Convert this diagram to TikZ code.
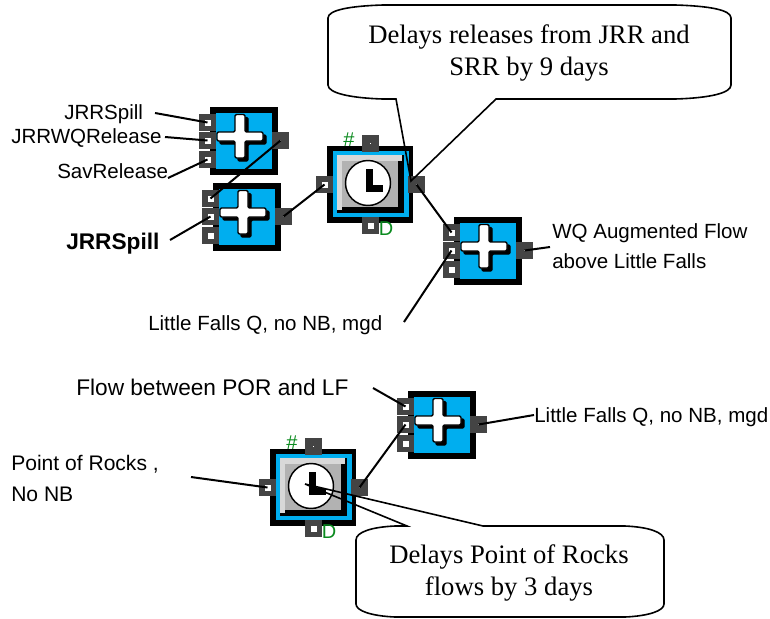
\documentclass[tikz,border=0pt]{standalone}
\usepackage{fontspec}
\setmainfont{Liberation Serif}
\setsansfont{Liberation Sans}
\definecolor{portgrey}{HTML}{444444}
\definecolor{skyb}{HTML}{00AEEF}
\definecolor{lightg}{HTML}{D8D8D8}
\definecolor{midg}{HTML}{B2B2B2}
\definecolor{tagg}{HTML}{0A8A1E}
\tikzset{
  port/.style={fill=portgrey,draw=none,inner sep=0pt,minimum size=12.75pt},
  holebig/.style={fill=white,draw=none,inner sep=0pt,minimum size=4.5pt},
  holedot/.style={fill=white,draw=none,inner sep=0pt,minimum size=0.9pt},
  conn/.style={line width=1.5pt,black},
  tail/.style={line width=1.2pt,black},
  lab/.style={font=\sffamily\fontsize{15.4}{18}\selectfont,inner sep=0pt,anchor=base west},
  widelab/.style={font=\sffamily\fontsize{17}{20}\selectfont,inner sep=0pt,anchor=base west},
  rocklab/.style={font=\sffamily\fontsize{15.8}{18}\selectfont,inner sep=0pt,anchor=base west},
  boldlab/.style={font=\sffamily\bfseries\fontsize{17}{19}\selectfont,inner sep=0pt,anchor=base west},
  note/.style={font=\rmfamily\fontsize{20}{24}\selectfont,inner sep=0pt,anchor=base},
  tag/.style={font=\sffamily\fontsize{15}{17}\selectfont,text=tagg,inner sep=0pt}
}
\newcommand{\portat}[4]{\node[port] (#1) at (#2,#3) {}; \node[#4] (#1-h) at (#1) {};}
\newcommand{\crosspath}{(25,7.5) -- (35,7.5) -- (35,25) -- (53,25) -- (53,34) -- (35,34) -- (35,51) -- (25,51) -- (25,34) -- (7,34) -- (7,25) -- (25,25) -- cycle}
\newcommand{\summer}[3]{%
  \begin{scope}[shift={(#2,#3)}]
    \fill[black] (0,0) rectangle (68,68);
    \fill[skyb] (6,6) rectangle (62,62);
    \fill[black,draw=black,line width=1pt,rounded corners=1pt,shift={(3,3)}] \crosspath;
    \filldraw[fill=white,draw=black,line width=1pt,rounded corners=1pt] \crosspath;
    \portat{#1-l1}{-2.5}{15.5}{holebig}
    \portat{#1-l2}{-2.5}{33.5}{holebig}
    \portat{#1-l3}{-2.5}{52.5}{holebig}
    \portat{#1-r}{70.5}{33.5}{holedot}
  \end{scope}}
\newcommand{\clockblock}[3]{%
  \begin{scope}[shift={(#2,#3)}]
    \fill[black] (0,0) rectangle (86,77);
    \fill[skyb] (6,5) rectangle (82,71);
    \fill[black] (10,9) rectangle (77,67);
    \fill[lightg] (10,9) rectangle (75,15);
    \fill[lightg] (10,9) rectangle (15,64);
    \fill[midg] (15,15) rectangle (71,61);
    \filldraw[fill=white,draw=black,line width=1.1pt] (41,37) circle (22.5);
    \fill[black] (39,23) rectangle (46,46);
    \fill[black] (39,39) rectangle (56,46);
    \portat{#1-l}{-2.5}{38.5}{holebig}
    \portat{#1-r}{89.5}{38.5}{holedot}
    \portat{#1-t}{43.5}{-2.5}{holedot}
    \portat{#1-b}{43.5}{79.5}{holebig}
    \node[tag] (#1-hash) at (22,-6) {\#};
    \node[tag] (#1-d) at (59,83) {D};
  \end{scope}}
\begin{document}
\begin{tikzpicture}[x=0.75pt,y=-0.75pt]
\useasboundingbox (0,0) rectangle (770,618);
% blocks
\summer{sa}{210}{107}
\summer{sb}{213}{183}
\summer{sc}{454}{217}
\summer{sd}{408}{391}
\clockblock{ca}{327}{146}
\clockblock{cb}{270}{449}
% labels
\node[lab] (tJRR) at (64,119) {JRRSpill};
\node[lab] (tWQ) at (11,143) {JRRWQRelease};
\node[lab] (tSav) at (57,178) {SavRelease};
\node[boldlab] (tBold) at (66,249) {JRRSpill};
\node[lab] (tLF) at (148,330) {Little Falls Q, no NB, mgd};
\node[lab] (tAug) at (552,238) {WQ Augmented Flow};
\node[lab] (tAug2) at (552,268) {above Little Falls};
\node[widelab] (tPOR) at (76,395) {Flow between POR and LF};
\node[lab] (tLF2) at (534,422) {Little Falls Q, no NB, mgd};
\node[rocklab] (tRock) at (11,470) {Point of Rocks ,};
\node[rocklab] (tRock2) at (11,501) {No NB};
\node[note] (nA) at (529,43) {Delays releases from JRR and};
\node[note] (nA2) at (529,75) {SRR by 9 days};
\node[note] (nB) at (509,563) {Delays Point of Rocks};
\node[note] (nB2) at (509,595) {flows by 3 days};
% free ends
\coordinate (fa) at (155,113);
\coordinate (fb) at (165,137);
\coordinate (fc) at (168,178);
\coordinate (fd) at (170,240);
\coordinate (fe) at (404,322);
\coordinate (ff) at (550,247);
\coordinate (fg) at (373,388);
\coordinate (fh) at (534,415);
\coordinate (fi) at (191,477);
\coordinate (tipA) at (411,181);
\coordinate (tipB) at (305,484);
% connectors
\draw[conn] (fa) -- (sa-l1.center);
\draw[conn] (fb) -- (sa-l2.center);
\draw[conn] (fc) -- (sa-l3.center);
\draw[conn] (sa-r.center) -- (sb-l1.center);
\draw[conn] (fd) -- (sb-l2.center);
\draw[conn] (sb-r.center) -- (ca-l.center);
\draw[conn] (ca-r.center) -- (sc-l1.center);
\draw[conn] (fe) -- (sc-l2.center);
\draw[conn] (sc-r.center) -- (ff);
\draw[conn] (fg) -- (sd-l1.center);
\draw[conn] (cb-r.center) -- (sd-l2.center);
\draw[conn] (sd-r.center) -- (fh);
\draw[conn] (fi) -- (cb-l.center);
% callouts
\draw[tail,line join=miter] (tipA) -- (396,99) -- (383,99) .. controls (350,98) and (328,93) .. (328,85) -- (328,18) .. controls (328,10) and (350,6) .. (383,5) -- (675,5) .. controls (710,6) and (731,10) .. (731,18) -- (731,85) .. controls (731,93) and (710,98) .. (675,99) -- (496,99) -- cycle;
\draw[tail,line join=miter] (tipB) -- (407,526) -- (395,526) .. controls (372,527) and (356,532) .. (356,540) -- (356,604) .. controls (356,611) and (372,616) .. (395,617) -- (625,617) .. controls (648,616) and (664,611) .. (664,604) -- (664,540) .. controls (664,532) and (648,527) .. (625,526) -- (483,526) -- cycle;
\end{tikzpicture}
\end{document}
